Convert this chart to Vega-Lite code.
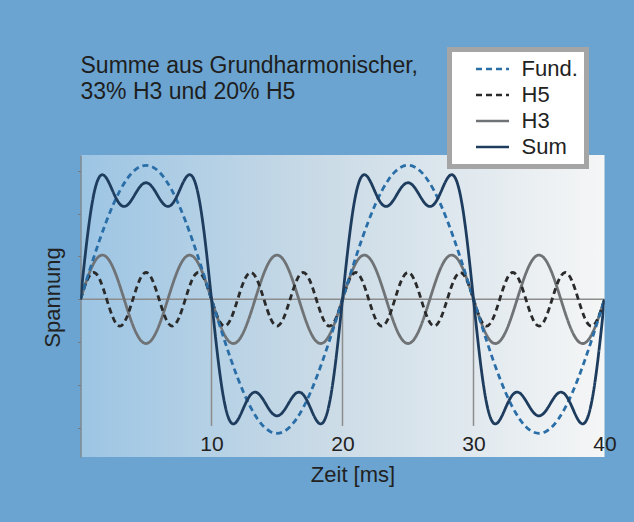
{
  "$schema": "https://vega.github.io/schema/vega-lite/v6.json",
  "width": 524,
  "height": 302,
  "autosize": "none",
  "padding": {"left": 80.5, "top": 155, "right": 29.5, "bottom": 65},
  "background": "#6ba4d0",
  "config": {
    "view": {"stroke": null, "fill": {"gradient": "linear", "x1": 0, "y1": 0, "x2": 1, "y2": 0, "stops": [{"offset": 0, "color": "#9cc5e4"}, {"offset": 0.45, "color": "#c9dae6"}, {"offset": 1, "color": "#f5f6f6"}]}},
    "font": "Liberation Sans"
  },
  "title": {
    "text": ["Summe aus Grundharmonischer,", "33% H3 und 20% H5"],
    "anchor": "start",
    "frame": "group",
    "offset": -57,
    "fontSize": 23,
    "font": "Liberation Sans",
    "fontWeight": "normal",
    "color": "#1e1e1e",
    "lineHeight": 25.6
  },
  "layer": [
    {
      "data": {"values": [{"t": 10, "v": 0, "v2": -0.945}, {"t": 20, "v": 0, "v2": -0.945}, {"t": 30, "v": 0, "v2": -0.945}]},
      "mark": {"type": "rule", "color": "#8c8c8c", "strokeWidth": 1.5},
      "encoding": {
        "x": {"field": "t", "type": "quantitative"},
        "y": {"field": "v", "type": "quantitative"},
        "y2": {"field": "v2"}
      }
    },
    {
      "data": {"values": [{"t": 0, "t2": 40, "v": 0}]},
      "mark": {"type": "rule", "color": "#8c8c8c", "strokeWidth": 1.5},
      "encoding": {
        "x": {"field": "t", "type": "quantitative"},
        "x2": {"field": "t2"},
        "y": {"field": "v", "type": "quantitative"}
      }
    },
    {
      "data": {"values": [
        {"t":0,"s":"H3","v":0},{"t":0.5,"s":"H3","v":0.1498},{"t":1,"s":"H3","v":0.267},{"t":1.5,"s":"H3","v":0.3259},{"t":2,"s":"H3","v":0.3139},{"t":2.5,"s":"H3","v":0.2333},{"t":3,"s":"H3","v":0.102},{"t":3.5,"s":"H3","v":-0.0516},{"t":4,"s":"H3","v":-0.194},{"t":4.5,"s":"H3","v":-0.294},
        {"t":5,"s":"H3","v":-0.33},{"t":5.5,"s":"H3","v":-0.294},{"t":6,"s":"H3","v":-0.194},{"t":6.5,"s":"H3","v":-0.0516},{"t":7,"s":"H3","v":0.102},{"t":7.5,"s":"H3","v":0.2333},{"t":8,"s":"H3","v":0.3139},{"t":8.5,"s":"H3","v":0.3259},{"t":9,"s":"H3","v":0.267},{"t":9.5,"s":"H3","v":0.1498},
        {"t":10,"s":"H3","v":0},{"t":10.5,"s":"H3","v":-0.1498},{"t":11,"s":"H3","v":-0.267},{"t":11.5,"s":"H3","v":-0.3259},{"t":12,"s":"H3","v":-0.3139},{"t":12.5,"s":"H3","v":-0.2333},{"t":13,"s":"H3","v":-0.102},{"t":13.5,"s":"H3","v":0.0516},{"t":14,"s":"H3","v":0.194},{"t":14.5,"s":"H3","v":0.294},
        {"t":15,"s":"H3","v":0.33},{"t":15.5,"s":"H3","v":0.294},{"t":16,"s":"H3","v":0.194},{"t":16.5,"s":"H3","v":0.0516},{"t":17,"s":"H3","v":-0.102},{"t":17.5,"s":"H3","v":-0.2333},{"t":18,"s":"H3","v":-0.3139},{"t":18.5,"s":"H3","v":-0.3259},{"t":19,"s":"H3","v":-0.267},{"t":19.5,"s":"H3","v":-0.1498},
        {"t":20,"s":"H3","v":0},{"t":20.5,"s":"H3","v":0.1498},{"t":21,"s":"H3","v":0.267},{"t":21.5,"s":"H3","v":0.3259},{"t":22,"s":"H3","v":0.3139},{"t":22.5,"s":"H3","v":0.2333},{"t":23,"s":"H3","v":0.102},{"t":23.5,"s":"H3","v":-0.0516},{"t":24,"s":"H3","v":-0.194},{"t":24.5,"s":"H3","v":-0.294},
        {"t":25,"s":"H3","v":-0.33},{"t":25.5,"s":"H3","v":-0.294},{"t":26,"s":"H3","v":-0.194},{"t":26.5,"s":"H3","v":-0.0516},{"t":27,"s":"H3","v":0.102},{"t":27.5,"s":"H3","v":0.2333},{"t":28,"s":"H3","v":0.3139},{"t":28.5,"s":"H3","v":0.3259},{"t":29,"s":"H3","v":0.267},{"t":29.5,"s":"H3","v":0.1498},
        {"t":30,"s":"H3","v":0},{"t":30.5,"s":"H3","v":-0.1498},{"t":31,"s":"H3","v":-0.267},{"t":31.5,"s":"H3","v":-0.3259},{"t":32,"s":"H3","v":-0.3139},{"t":32.5,"s":"H3","v":-0.2333},{"t":33,"s":"H3","v":-0.102},{"t":33.5,"s":"H3","v":0.0516},{"t":34,"s":"H3","v":0.194},{"t":34.5,"s":"H3","v":0.294},
        {"t":35,"s":"H3","v":0.33},{"t":35.5,"s":"H3","v":0.294},{"t":36,"s":"H3","v":0.194},{"t":36.5,"s":"H3","v":0.0516},{"t":37,"s":"H3","v":-0.102},{"t":37.5,"s":"H3","v":-0.2333},{"t":38,"s":"H3","v":-0.3139},{"t":38.5,"s":"H3","v":-0.3259},{"t":39,"s":"H3","v":-0.267},{"t":39.5,"s":"H3","v":-0.1498},{"t":40,"s":"H3","v":0},

        {"t":0,"s":"H5","v":0},{"t":0.5,"s":"H5","v":0.1414},{"t":1,"s":"H5","v":0.2},{"t":1.5,"s":"H5","v":0.1414},{"t":2,"s":"H5","v":0},{"t":2.5,"s":"H5","v":-0.1414},{"t":3,"s":"H5","v":-0.2},{"t":3.5,"s":"H5","v":-0.1414},{"t":4,"s":"H5","v":0},{"t":4.5,"s":"H5","v":0.1414},
        {"t":5,"s":"H5","v":0.2},{"t":5.5,"s":"H5","v":0.1414},{"t":6,"s":"H5","v":0},{"t":6.5,"s":"H5","v":-0.1414},{"t":7,"s":"H5","v":-0.2},{"t":7.5,"s":"H5","v":-0.1414},{"t":8,"s":"H5","v":0},{"t":8.5,"s":"H5","v":0.1414},{"t":9,"s":"H5","v":0.2},{"t":9.5,"s":"H5","v":0.1414},
        {"t":10,"s":"H5","v":0},{"t":10.5,"s":"H5","v":-0.1414},{"t":11,"s":"H5","v":-0.2},{"t":11.5,"s":"H5","v":-0.1414},{"t":12,"s":"H5","v":0},{"t":12.5,"s":"H5","v":0.1414},{"t":13,"s":"H5","v":0.2},{"t":13.5,"s":"H5","v":0.1414},{"t":14,"s":"H5","v":0},{"t":14.5,"s":"H5","v":-0.1414},
        {"t":15,"s":"H5","v":-0.2},{"t":15.5,"s":"H5","v":-0.1414},{"t":16,"s":"H5","v":0},{"t":16.5,"s":"H5","v":0.1414},{"t":17,"s":"H5","v":0.2},{"t":17.5,"s":"H5","v":0.1414},{"t":18,"s":"H5","v":0},{"t":18.5,"s":"H5","v":-0.1414},{"t":19,"s":"H5","v":-0.2},{"t":19.5,"s":"H5","v":-0.1414},
        {"t":20,"s":"H5","v":0},{"t":20.5,"s":"H5","v":0.1414},{"t":21,"s":"H5","v":0.2},{"t":21.5,"s":"H5","v":0.1414},{"t":22,"s":"H5","v":0},{"t":22.5,"s":"H5","v":-0.1414},{"t":23,"s":"H5","v":-0.2},{"t":23.5,"s":"H5","v":-0.1414},{"t":24,"s":"H5","v":0},{"t":24.5,"s":"H5","v":0.1414},
        {"t":25,"s":"H5","v":0.2},{"t":25.5,"s":"H5","v":0.1414},{"t":26,"s":"H5","v":0},{"t":26.5,"s":"H5","v":-0.1414},{"t":27,"s":"H5","v":-0.2},{"t":27.5,"s":"H5","v":-0.1414},{"t":28,"s":"H5","v":0},{"t":28.5,"s":"H5","v":0.1414},{"t":29,"s":"H5","v":0.2},{"t":29.5,"s":"H5","v":0.1414},
        {"t":30,"s":"H5","v":0},{"t":30.5,"s":"H5","v":-0.1414},{"t":31,"s":"H5","v":-0.2},{"t":31.5,"s":"H5","v":-0.1414},{"t":32,"s":"H5","v":0},{"t":32.5,"s":"H5","v":0.1414},{"t":33,"s":"H5","v":0.2},{"t":33.5,"s":"H5","v":0.1414},{"t":34,"s":"H5","v":0},{"t":34.5,"s":"H5","v":-0.1414},
        {"t":35,"s":"H5","v":-0.2},{"t":35.5,"s":"H5","v":-0.1414},{"t":36,"s":"H5","v":0},{"t":36.5,"s":"H5","v":0.1414},{"t":37,"s":"H5","v":0.2},{"t":37.5,"s":"H5","v":0.1414},{"t":38,"s":"H5","v":0},{"t":38.5,"s":"H5","v":-0.1414},{"t":39,"s":"H5","v":-0.2},{"t":39.5,"s":"H5","v":-0.1414},{"t":40,"s":"H5","v":0},

        {"t":0,"s":"Fund.","v":0},{"t":0.5,"s":"Fund.","v":0.1564},{"t":1,"s":"Fund.","v":0.309},{"t":1.5,"s":"Fund.","v":0.454},{"t":2,"s":"Fund.","v":0.5878},{"t":2.5,"s":"Fund.","v":0.7071},{"t":3,"s":"Fund.","v":0.809},{"t":3.5,"s":"Fund.","v":0.891},{"t":4,"s":"Fund.","v":0.9511},{"t":4.5,"s":"Fund.","v":0.9877},
        {"t":5,"s":"Fund.","v":1},{"t":5.5,"s":"Fund.","v":0.9877},{"t":6,"s":"Fund.","v":0.9511},{"t":6.5,"s":"Fund.","v":0.891},{"t":7,"s":"Fund.","v":0.809},{"t":7.5,"s":"Fund.","v":0.7071},{"t":8,"s":"Fund.","v":0.5878},{"t":8.5,"s":"Fund.","v":0.454},{"t":9,"s":"Fund.","v":0.309},{"t":9.5,"s":"Fund.","v":0.1564},
        {"t":10,"s":"Fund.","v":0},{"t":10.5,"s":"Fund.","v":-0.1564},{"t":11,"s":"Fund.","v":-0.309},{"t":11.5,"s":"Fund.","v":-0.454},{"t":12,"s":"Fund.","v":-0.5878},{"t":12.5,"s":"Fund.","v":-0.7071},{"t":13,"s":"Fund.","v":-0.809},{"t":13.5,"s":"Fund.","v":-0.891},{"t":14,"s":"Fund.","v":-0.9511},{"t":14.5,"s":"Fund.","v":-0.9877},
        {"t":15,"s":"Fund.","v":-1},{"t":15.5,"s":"Fund.","v":-0.9877},{"t":16,"s":"Fund.","v":-0.9511},{"t":16.5,"s":"Fund.","v":-0.891},{"t":17,"s":"Fund.","v":-0.809},{"t":17.5,"s":"Fund.","v":-0.7071},{"t":18,"s":"Fund.","v":-0.5878},{"t":18.5,"s":"Fund.","v":-0.454},{"t":19,"s":"Fund.","v":-0.309},{"t":19.5,"s":"Fund.","v":-0.1564},
        {"t":20,"s":"Fund.","v":0},{"t":20.5,"s":"Fund.","v":0.1564},{"t":21,"s":"Fund.","v":0.309},{"t":21.5,"s":"Fund.","v":0.454},{"t":22,"s":"Fund.","v":0.5878},{"t":22.5,"s":"Fund.","v":0.7071},{"t":23,"s":"Fund.","v":0.809},{"t":23.5,"s":"Fund.","v":0.891},{"t":24,"s":"Fund.","v":0.9511},{"t":24.5,"s":"Fund.","v":0.9877},
        {"t":25,"s":"Fund.","v":1},{"t":25.5,"s":"Fund.","v":0.9877},{"t":26,"s":"Fund.","v":0.9511},{"t":26.5,"s":"Fund.","v":0.891},{"t":27,"s":"Fund.","v":0.809},{"t":27.5,"s":"Fund.","v":0.7071},{"t":28,"s":"Fund.","v":0.5878},{"t":28.5,"s":"Fund.","v":0.454},{"t":29,"s":"Fund.","v":0.309},{"t":29.5,"s":"Fund.","v":0.1564},
        {"t":30,"s":"Fund.","v":0},{"t":30.5,"s":"Fund.","v":-0.1564},{"t":31,"s":"Fund.","v":-0.309},{"t":31.5,"s":"Fund.","v":-0.454},{"t":32,"s":"Fund.","v":-0.5878},{"t":32.5,"s":"Fund.","v":-0.7071},{"t":33,"s":"Fund.","v":-0.809},{"t":33.5,"s":"Fund.","v":-0.891},{"t":34,"s":"Fund.","v":-0.9511},{"t":34.5,"s":"Fund.","v":-0.9877},
        {"t":35,"s":"Fund.","v":-1},{"t":35.5,"s":"Fund.","v":-0.9877},{"t":36,"s":"Fund.","v":-0.9511},{"t":36.5,"s":"Fund.","v":-0.891},{"t":37,"s":"Fund.","v":-0.809},{"t":37.5,"s":"Fund.","v":-0.7071},{"t":38,"s":"Fund.","v":-0.5878},{"t":38.5,"s":"Fund.","v":-0.454},{"t":39,"s":"Fund.","v":-0.309},{"t":39.5,"s":"Fund.","v":-0.1564},{"t":40,"s":"Fund.","v":0},

        {"t":0,"s":"Sum","v":0},{"t":0.5,"s":"Sum","v":0.4476},{"t":1,"s":"Sum","v":0.776},{"t":1.5,"s":"Sum","v":0.9213},{"t":2,"s":"Sum","v":0.9017},{"t":2.5,"s":"Sum","v":0.799},{"t":3,"s":"Sum","v":0.711},{"t":3.5,"s":"Sum","v":0.698},{"t":4,"s":"Sum","v":0.7571},{"t":4.5,"s":"Sum","v":0.8351},
        {"t":5,"s":"Sum","v":0.87},{"t":5.5,"s":"Sum","v":0.8351},{"t":6,"s":"Sum","v":0.7571},{"t":6.5,"s":"Sum","v":0.698},{"t":7,"s":"Sum","v":0.711},{"t":7.5,"s":"Sum","v":0.799},{"t":8,"s":"Sum","v":0.9017},{"t":8.5,"s":"Sum","v":0.9213},{"t":9,"s":"Sum","v":0.776},{"t":9.5,"s":"Sum","v":0.4476},
        {"t":10,"s":"Sum","v":0},{"t":10.5,"s":"Sum","v":-0.4476},{"t":11,"s":"Sum","v":-0.776},{"t":11.5,"s":"Sum","v":-0.9213},{"t":12,"s":"Sum","v":-0.9017},{"t":12.5,"s":"Sum","v":-0.799},{"t":13,"s":"Sum","v":-0.711},{"t":13.5,"s":"Sum","v":-0.698},{"t":14,"s":"Sum","v":-0.7571},{"t":14.5,"s":"Sum","v":-0.8351},
        {"t":15,"s":"Sum","v":-0.87},{"t":15.5,"s":"Sum","v":-0.8351},{"t":16,"s":"Sum","v":-0.7571},{"t":16.5,"s":"Sum","v":-0.698},{"t":17,"s":"Sum","v":-0.711},{"t":17.5,"s":"Sum","v":-0.799},{"t":18,"s":"Sum","v":-0.9017},{"t":18.5,"s":"Sum","v":-0.9213},{"t":19,"s":"Sum","v":-0.776},{"t":19.5,"s":"Sum","v":-0.4476},
        {"t":20,"s":"Sum","v":0},{"t":20.5,"s":"Sum","v":0.4476},{"t":21,"s":"Sum","v":0.776},{"t":21.5,"s":"Sum","v":0.9213},{"t":22,"s":"Sum","v":0.9017},{"t":22.5,"s":"Sum","v":0.799},{"t":23,"s":"Sum","v":0.711},{"t":23.5,"s":"Sum","v":0.698},{"t":24,"s":"Sum","v":0.7571},{"t":24.5,"s":"Sum","v":0.8351},
        {"t":25,"s":"Sum","v":0.87},{"t":25.5,"s":"Sum","v":0.8351},{"t":26,"s":"Sum","v":0.7571},{"t":26.5,"s":"Sum","v":0.698},{"t":27,"s":"Sum","v":0.711},{"t":27.5,"s":"Sum","v":0.799},{"t":28,"s":"Sum","v":0.9017},{"t":28.5,"s":"Sum","v":0.9213},{"t":29,"s":"Sum","v":0.776},{"t":29.5,"s":"Sum","v":0.4476},
        {"t":30,"s":"Sum","v":0},{"t":30.5,"s":"Sum","v":-0.4476},{"t":31,"s":"Sum","v":-0.776},{"t":31.5,"s":"Sum","v":-0.9213},{"t":32,"s":"Sum","v":-0.9017},{"t":32.5,"s":"Sum","v":-0.799},{"t":33,"s":"Sum","v":-0.711},{"t":33.5,"s":"Sum","v":-0.698},{"t":34,"s":"Sum","v":-0.7571},{"t":34.5,"s":"Sum","v":-0.8351},
        {"t":35,"s":"Sum","v":-0.87},{"t":35.5,"s":"Sum","v":-0.8351},{"t":36,"s":"Sum","v":-0.7571},{"t":36.5,"s":"Sum","v":-0.698},{"t":37,"s":"Sum","v":-0.711},{"t":37.5,"s":"Sum","v":-0.799},{"t":38,"s":"Sum","v":-0.9017},{"t":38.5,"s":"Sum","v":-0.9213},{"t":39,"s":"Sum","v":-0.776},{"t":39.5,"s":"Sum","v":-0.4476},{"t":40,"s":"Sum","v":0}
      ]},
      "mark": {"type": "line", "interpolate": "natural", "strokeWidth": 2.8, "clip": true},
      "encoding": {
        "x": {
          "field": "t", "type": "quantitative",
          "scale": {"domain": [0, 40], "nice": false, "zero": false},
          "axis": {
            "title": "Zeit [ms]", "values": [10, 20, 30, 40], "domain": false, "ticks": false, "tickSize": 0, "grid": false,
            "labelFlush": false, "labelPadding": 0, "offset": -23.5,
            "labelFontSize": 21, "labelColor": "#222222", "labelFont": "Liberation Sans",
            "titleFontSize": 22, "titleFontWeight": "normal", "titleColor": "#222222", "titleFont": "Liberation Sans",
            "titleX": 272, "titlePadding": 10
          }
        },
        "y": {
          "field": "v", "type": "quantitative",
          "scale": {"domain": [-1.177, 1.077], "nice": false, "zero": false},
          "axis": {
            "title": "Spannung", "values": [-0.96, -0.64, -0.32, 0, 0.32, 0.64, 0.96], "labels": false, "grid": false,
            "domainColor": "#7a7a7a", "domainWidth": 1.2, "tickColor": "#7a7a7a", "tickSize": 3,
            "titleFontSize": 22, "titleFontWeight": "normal", "titleColor": "#222222", "titleFont": "Liberation Sans",
            "titleX": -28.5, "titleY": 142, "titleBaseline": "middle"
          }
        },
        "color": {
          "field": "s", "type": "nominal",
          "scale": {"domain": ["Fund.", "H5", "H3", "Sum"], "range": ["#2a6ea8", "#2a2a2a", "#707376", "#1d3c5e"]},
          "legend": {
            "title": null, "orient": "none", "legendX": 369, "legendY": -105.5, "padding": 8.5,
            "fillColor": "#ffffff", "strokeColor": "#a5a5a5",
            "symbolType": "M-2,0H2", "symbolSize": 272, "symbolStrokeWidth": 2.6, "symbolOffset": 23.5,
            "labelOffset": 18, "labelFontSize": 22, "labelFont": "Liberation Sans", "labelColor": "#222222", "rowPadding": 4,
            "labelExpr": "datum.label == 'Fund.' ? 'Fund.\u00a0\u00a0' : datum.label",
            "encode": {"legend": {"update": {"strokeWidth": {"value": 5}}}}
          }
        },
        "strokeDash": {
          "field": "s", "type": "nominal",
          "scale": {"domain": ["Fund.", "H5", "H3", "Sum"], "range": [[6, 4], [6, 4], [1, 0], [1, 0]]},
          "legend": {
            "title": null, "orient": "none", "legendX": 369, "legendY": -105.5, "padding": 8.5,
            "fillColor": "#ffffff", "strokeColor": "#a5a5a5",
            "symbolType": "M-2,0H2", "symbolSize": 272, "symbolStrokeWidth": 2.6, "symbolOffset": 23.5,
            "labelOffset": 18, "labelFontSize": 22, "labelFont": "Liberation Sans", "labelColor": "#222222", "rowPadding": 4,
            "labelExpr": "datum.label == 'Fund.' ? 'Fund.\u00a0\u00a0' : datum.label",
            "encode": {"legend": {"update": {"strokeWidth": {"value": 5}}}}
          }
        }
      }
    }
  ]
}
